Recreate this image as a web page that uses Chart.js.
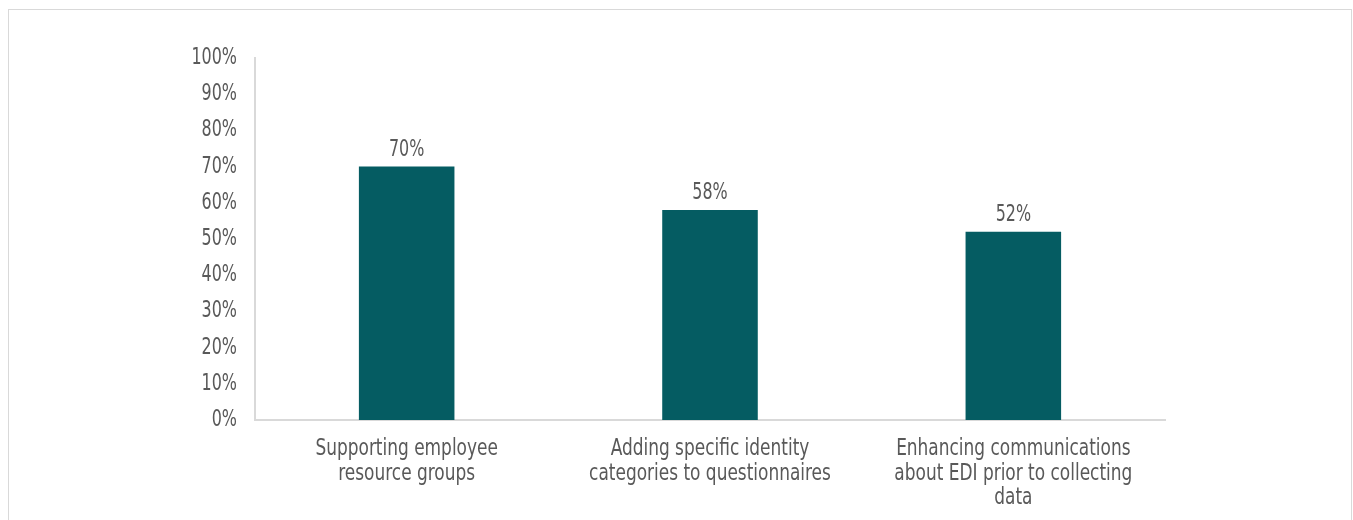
<!DOCTYPE html>
<html lang="en">
<head>
  <meta charset="UTF-8" />
  <title>EDI initiatives</title>
  <script src="https://cdn.jsdelivr.net/npm/chart.js"></script>
  <style>
    body {
      margin: 0;
      background: #ffffff;
      width: 1353px;
      height: 520px;
      overflow: hidden;
      position: relative;
    }

    #frame {
      position: absolute;
      left: 8px;
      top: 9px;
      width: 1342px;
      height: 530px;
      border: 1px solid #d9d9d9;
    }

    #wrap {
      position: absolute;
      left: 0;
      top: 0;
      width: 1353px;
      height: 520px;
    }
  </style>
</head>
<body>
  <div id="frame"></div>
  <div id="wrap"><canvas id="chart"></canvas></div>

  <script>
    const categories = [
      ["Supporting employee", "resource groups"],
      ["Adding specific identity", "categories to questionnaires"],
      ["Enhancing communications", "about EDI prior to collecting", "data"]
    ];
    const shares = [70, 58, 52];
    const yTicks = [0, 10, 20, 30, 40, 50, 60, 70, 80, 90, 100];

    const fontFamily = "'DejaVu Sans Condensed', 'DejaVu Sans', sans-serif";
    const textColor = "#595959";

    function narrowText(ctx, text, x, y, squeeze) {
      ctx.save();
      ctx.translate(x, y);
      ctx.scale(squeeze, 1);
      ctx.fillText(text, 0, 0);
      ctx.restore();
    }

    // tick labels, category labels and bar values drawn in a condensed style
    const condensedLabels = {
      id: "condensedLabels",
      afterDraw(chart) {
        const ctx = chart.ctx;
        const xs = chart.scales.x;
        const ys = chart.scales.y;
        ctx.save();
        ctx.font = "23px " + fontFamily;
        ctx.fillStyle = textColor;

        ctx.textAlign = "right";
        ctx.textBaseline = "middle";
        yTicks.forEach(v => {
          narrowText(ctx, v + "%", ys.right - 18, ys.getPixelForValue(v), 0.77);
        });

        ctx.textAlign = "center";
        ctx.textBaseline = "alphabetic";
        categories.forEach((lines, i) => {
          const cx = xs.getPixelForValue(i);
          lines.forEach((line, k) => {
            narrowText(ctx, line, cx, xs.top + 35 + k * 24.5, 0.82);
          });
        });

        chart.getDatasetMeta(0).data.forEach((bar, i) => {
          narrowText(ctx, shares[i] + "%", bar.x, bar.y - 11, 0.77);
        });
        ctx.restore();
      }
    };

    new Chart(document.getElementById("chart"), {
      type: "bar",
      data: {
        labels: categories,
        datasets: [{
          data: shares,
          backgroundColor: "#055c62",
          barPercentage: 0.315,
          categoryPercentage: 1
        }]
      },
      options: {
        responsive: true,
        maintainAspectRatio: false,
        animation: false,
        layout: { padding: { top: 58, right: 188, left: 0, bottom: 0 } },
        plugins: {
          legend: { display: false },
          tooltip: { enabled: false }
        },
        scales: {
          x: {
            grid: { display: false, drawTicks: false },
            border: { color: "#d9d9d9", width: 2 },
            ticks: { display: false },
            afterFit(scale) { scale.height = 100; }
          },
          y: {
            min: 0,
            max: 100,
            afterBuildTicks(scale) {
              scale.ticks = yTicks.map(v => ({ value: v }));
            },
            grid: { display: false, drawTicks: false },
            border: { color: "#d9d9d9", width: 2 },
            ticks: { display: false },
            afterFit(scale) { scale.width = 255; }
          }
        }
      },
      plugins: [condensedLabels]
    });
  </script>
</body>
</html>
